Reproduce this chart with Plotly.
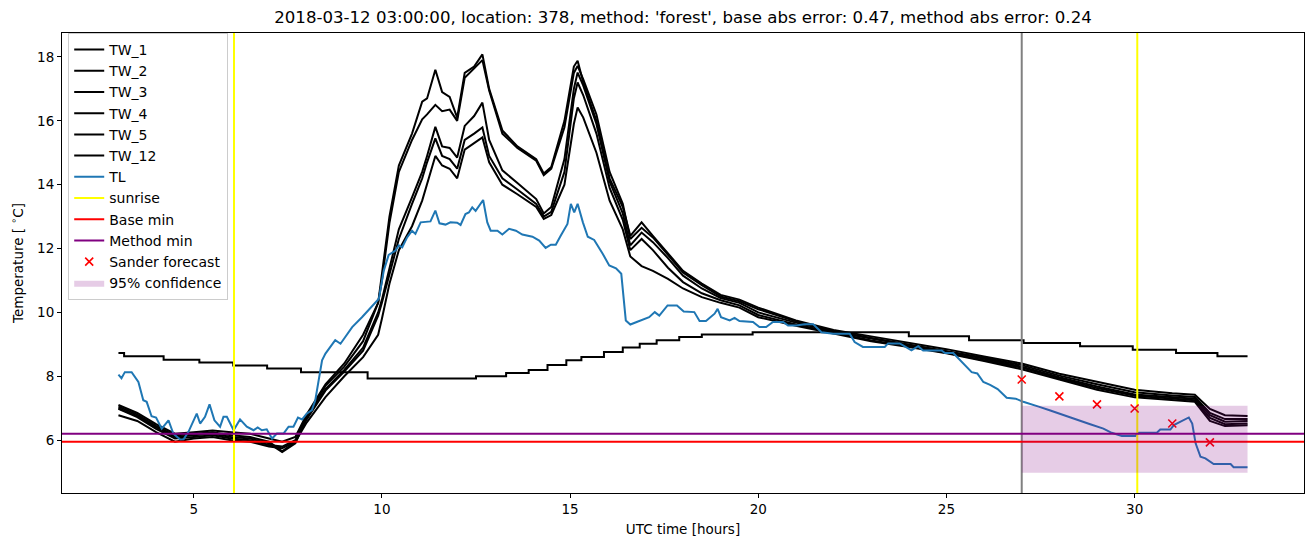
import plotly.graph_objects as go

# ---------------- data ----------------
TW_TIME = [3.0, 3.5, 4.0, 4.5, 5.0, 5.5, 6.0, 6.5, 7.0, 7.35, 7.7, 8.0, 8.5, 9.0, 9.5, 9.9,
           10.0, 10.2, 10.45, 10.8, 11.07, 11.2, 11.42, 11.6, 11.8, 12.0, 12.2, 12.45, 12.67,
           12.85, 13.2, 13.6, 14.1, 14.3, 14.5, 14.85, 15.1, 15.2, 15.35, 15.7, 16.05, 16.4,
           16.6, 16.9, 17.2, 17.6, 18.0, 18.5, 19.0, 19.5, 20.0, 21.0, 22.0, 23.0, 24.0, 25.0,
           26.0, 27.0, 28.0, 29.0, 30.0, 31.0, 31.6, 32.0, 32.4, 33.0]

TW_1 = [7.10, 6.85, 6.50, 6.20, 6.25, 6.30, 6.25, 6.20, 6.05, 5.95, 6.10, 6.80, 7.75, 8.40, 9.30, 10.30,
        11.20, 13.00, 14.60, 15.60, 16.60, 16.70, 17.60, 16.90, 16.75, 16.10, 17.50, 17.70, 18.08,
        17.00, 15.70, 15.20, 14.80, 14.35, 14.55, 16.00, 17.70, 17.88, 17.20, 16.00, 14.20, 13.30,
        12.40, 12.82, 12.40, 11.85, 11.30, 10.90, 10.55, 10.40, 10.15, 9.75, 9.45, 9.25, 9.05, 8.85,
        8.62, 8.40, 8.08, 7.82, 7.58, 7.47, 7.42, 6.98, 6.78, 6.76]
TW_2 = [7.05, 6.80, 6.45, 6.15, 6.20, 6.25, 6.15, 6.10, 5.95, 5.65, 5.95, 6.75, 7.70, 8.30, 9.10, 10.30,
        11.00, 12.80, 14.40, 15.40, 16.05, 16.20, 16.50, 16.30, 16.35, 16.00, 17.35, 17.65, 17.90,
        16.95, 15.60, 15.15, 14.75, 14.30, 14.50, 15.80, 17.50, 17.72, 17.30, 16.20, 14.40, 13.40,
        12.30, 12.65, 12.35, 11.80, 11.25, 10.85, 10.50, 10.35, 10.10, 9.72, 9.42, 9.20, 9.00, 8.80,
        8.58, 8.35, 8.02, 7.75, 7.50, 7.40, 7.35, 6.85, 6.66, 6.66]
TW_3 = [7.00, 6.75, 6.40, 6.10, 6.15, 6.20, 6.10, 6.05, 5.90, 5.63, 5.90, 6.70, 7.60, 8.20, 8.90, 10.00,
        10.40, 11.40, 12.60, 13.60, 14.40, 14.90, 15.81, 15.20, 15.15, 14.85, 15.84, 16.15, 16.57,
        15.40, 14.45, 14.05, 13.55, 13.10, 13.30, 14.80, 17.00, 17.51, 17.10, 15.90, 14.10, 13.10,
        12.10, 12.50, 12.20, 11.70, 11.15, 10.75, 10.45, 10.30, 10.00, 9.68, 9.40, 9.18, 8.98, 8.78,
        8.55, 8.30, 7.97, 7.68, 7.43, 7.36, 7.30, 6.78, 6.58, 6.60]
TW_4 = [6.98, 6.72, 6.35, 6.05, 6.10, 6.15, 6.05, 6.00, 5.85, 5.80, 6.00, 6.65, 7.55, 8.15, 8.80, 9.90,
        10.30, 11.20, 12.30, 13.40, 14.20, 14.70, 15.45, 14.90, 14.80, 14.50, 15.40, 15.60, 15.79,
        14.90, 14.20, 13.85, 13.40, 13.00, 13.15, 14.40, 16.70, 17.20, 16.80, 15.60, 13.90, 12.90,
        11.95, 12.30, 11.95, 11.40, 10.95, 10.60, 10.38, 10.22, 9.92, 9.62, 9.38, 9.12, 8.94, 8.74,
        8.50, 8.27, 7.94, 7.63, 7.39, 7.31, 7.25, 6.70, 6.50, 6.52]
TW_5 = [6.78, 6.60, 6.25, 5.95, 6.05, 6.10, 6.00, 5.95, 5.80, 5.75, 5.95, 6.55, 7.35, 8.00, 8.60, 9.30,
        9.80, 10.90, 11.95, 12.70, 13.50, 14.00, 14.90, 14.60, 14.50, 14.20, 15.10, 15.30, 15.48,
        14.70, 14.00, 13.70, 13.30, 12.93, 13.05, 14.00, 15.90, 16.42, 16.10, 15.00, 13.50, 12.60,
        11.75, 11.45, 11.30, 11.05, 10.75, 10.48, 10.30, 10.15, 9.85, 9.58, 9.35, 9.10, 8.92, 8.72,
        8.48, 8.22, 7.90, 7.58, 7.34, 7.26, 7.20, 6.60, 6.44, 6.47]

TW12_TIME = [3.0, 3.15, 4.2, 5.15, 6.05, 6.95, 7.85, 9.62, 12.5, 13.3, 13.9, 14.4, 14.9, 15.3, 15.9,
             16.4, 16.85, 17.3, 17.9, 18.5, 19.85, 24.0, 25.6, 27.05, 28.55, 29.95, 31.1, 32.2, 33.0]
TW_12 = [8.73, 8.63, 8.52, 8.43, 8.34, 8.24, 8.13, 7.93, 8.00, 8.10, 8.20, 8.35, 8.50, 8.60, 8.76,
         8.90, 9.02, 9.13, 9.23, 9.31, 9.38, 9.25, 9.13, 9.04, 8.94, 8.83, 8.73, 8.63, 8.63]

TL_TIME = [3.00, 3.08, 3.17, 3.35, 3.53, 3.66, 3.75, 3.88, 4.00, 4.15, 4.33, 4.46, 4.64, 4.73, 4.86,
           5.08, 5.17, 5.30, 5.42, 5.55, 5.70, 5.79, 5.88, 6.06, 6.23, 6.41, 6.59, 6.70, 6.81, 6.94,
           7.08, 7.21, 7.39, 7.52, 7.65, 7.77, 7.88, 8.00, 8.14, 8.23, 8.41, 8.50, 8.76, 8.90, 9.21,
           9.47, 9.92, 10.05, 10.18, 10.36, 10.45, 10.54, 10.67, 10.80, 10.89, 11.03, 11.29, 11.42,
           11.53, 11.69, 11.82, 12.00, 12.09, 12.22, 12.31, 12.40, 12.49, 12.58, 12.69, 12.80, 12.89,
           13.07, 13.20, 13.38, 13.56, 13.73, 14.00, 14.18, 14.35, 14.49, 14.62, 14.75, 14.93, 15.02,
           15.11, 15.20, 15.34, 15.47, 15.64, 15.87, 16.04, 16.22, 16.36, 16.48, 16.60, 16.77, 16.95,
           17.10, 17.25, 17.37, 17.59, 17.84, 18.02, 18.30, 18.44, 18.61, 18.84, 18.92, 19.01, 19.24,
           19.37, 19.50, 19.86, 20.03, 20.21, 20.39, 20.66, 20.79, 21.01, 21.23, 21.46, 21.68, 21.99,
           22.43, 22.56, 22.78, 23.36, 23.45, 23.76, 23.90, 24.07, 24.25, 24.38, 24.87, 24.96, 25.18,
           25.67, 25.82, 25.98, 26.16, 26.36, 26.60, 26.84, 27.04, 27.22, 27.45, 27.76, 28.02, 28.29,
           28.55, 28.82, 29.17, 29.39, 29.66, 30.02, 30.11, 30.59, 30.68, 30.95, 31.04, 31.26, 31.44,
           31.53, 31.62, 31.75, 31.88, 32.10, 32.55, 32.63, 33.00]
TL = [8.05, 7.94, 8.13, 8.13, 7.82, 7.25, 7.20, 6.75, 6.71, 6.36, 6.62, 6.20, 6.02, 6.03, 6.26,
      6.83, 6.52, 6.73, 7.12, 6.62, 6.42, 6.73, 6.73, 6.31, 6.65, 6.42, 6.31, 6.40, 6.31, 6.34,
      6.05, 6.21, 6.21, 6.42, 6.42, 6.71, 6.65, 6.83, 6.94, 7.25, 8.50, 8.71, 9.13, 9.02, 9.54,
      9.85, 10.43, 11.31, 11.80, 11.94, 12.10, 12.04, 12.35, 12.56, 12.46, 12.82, 12.85, 13.19,
      12.79, 12.75, 12.82, 12.81, 12.74, 13.08, 13.13, 13.29, 13.18, 13.34, 13.52, 12.82, 12.56,
      12.56, 12.44, 12.62, 12.56, 12.44, 12.37, 12.25, 12.02, 12.12, 12.12, 12.40, 12.77, 13.40,
      13.13, 13.40, 12.82, 12.37, 12.27, 11.83, 11.47, 11.38, 11.21, 9.75, 9.62, 9.70, 9.78,
      9.85, 10.01, 9.90, 10.22, 10.22, 10.03, 10.01, 9.73, 9.73, 9.96, 10.11, 9.85, 9.75,
      9.83, 9.73, 9.70, 9.54, 9.54, 9.70, 9.70, 9.59, 9.59, 9.63, 9.63, 9.38, 9.33,
      9.33, 9.07, 8.92, 8.92, 9.03, 9.03, 8.94, 8.81, 8.94, 8.81, 8.81, 8.73, 8.73,
      8.13, 8.09, 7.82, 7.73, 7.60, 7.33, 7.30, 7.20, 7.14, 7.05, 6.93, 6.83, 6.71,
      6.62, 6.50, 6.36, 6.23, 6.13, 6.13, 6.23, 6.23, 6.33, 6.33, 6.47, 6.60, 6.71,
      6.52, 5.90, 5.48, 5.43, 5.25, 5.25, 5.15, 5.15]

SUNRISE = [6.07, 30.07]
FORECAST_START = 27.0
BASE_MIN = 5.95
METHOD_MIN = 6.20
SANDER_TIME = [27, 28, 29, 30, 31, 32]
SANDER = [7.90, 7.37, 7.12, 6.99, 6.52, 5.93]
CONF_TIME = [27.0, 33.0]
CONF_LOW = 4.98
CONF_HIGH = 7.08

X_RANGE = [1.5, 34.5]
Y_RANGE = [4.345, 18.75]
X_TICKS = [5, 10, 15, 20, 25, 30]
Y_TICKS = [6, 8, 10, 12, 14, 16, 18]

TITLE = ("2018-03-12 03:00:00, location: 378, method: 'forest', "
         "base abs error: 0.47, method abs error: 0.24")

# ---------------- figure ----------------
fig = go.Figure()
LW = 2

for name, vals in [("TW_1", TW_1), ("TW_2", TW_2), ("TW_3", TW_3), ("TW_4", TW_4), ("TW_5", TW_5)]:
    fig.add_trace(go.Scatter(x=TW_TIME, y=vals, mode="lines", name=name,
                             line=dict(color="black", width=LW)))
fig.add_trace(go.Scatter(x=TW12_TIME, y=TW_12, mode="lines", name="TW_12",
                         line=dict(color="black", width=LW, shape="hv")))
fig.add_trace(go.Scatter(x=TL_TIME, y=TL, mode="lines", name="TL",
                         line=dict(color="#1f77b4", width=LW)))

# gray forecast-start line (no legend)
fig.add_trace(go.Scatter(x=[FORECAST_START, FORECAST_START], y=Y_RANGE, mode="lines",
                         line=dict(color="gray", width=LW), showlegend=False, hoverinfo="skip"))

sx, sy = [], []
for s in SUNRISE:
    sx += [s, s, None]
    sy += [Y_RANGE[0], Y_RANGE[1], None]
fig.add_trace(go.Scatter(x=sx, y=sy, mode="lines", name="sunrise",
                         line=dict(color="yellow", width=LW)))
fig.add_trace(go.Scatter(x=X_RANGE, y=[BASE_MIN, BASE_MIN], mode="lines", name="Base min",
                         line=dict(color="red", width=LW)))
fig.add_trace(go.Scatter(x=X_RANGE, y=[METHOD_MIN, METHOD_MIN], mode="lines", name="Method min",
                         line=dict(color="purple", width=LW)))
fig.add_trace(go.Scatter(x=SANDER_TIME, y=SANDER, mode="markers", name="Sander forecast",
                         marker=dict(symbol="x-thin", size=8, color="red",
                                     line=dict(color="red", width=1.6))))
fig.add_trace(go.Scatter(x=[CONF_TIME[0], CONF_TIME[1], CONF_TIME[1], CONF_TIME[0]],
                         y=[CONF_HIGH, CONF_HIGH, CONF_LOW, CONF_LOW],
                         mode="lines", fill="toself", name="95% confidence",
                         fillcolor="rgba(128,0,128,0.2)", line=dict(width=0)))

FONT = "DejaVu Sans"
fig.update_layout(
    width=1311, height=547,
    margin=dict(l=62, r=7, t=33, b=54),
    paper_bgcolor="white", plot_bgcolor="white",
    font=dict(family=FONT, size=14, color="black"),
    title=dict(text=TITLE, x=(62 + 1304) / 2 / 1311, xanchor="center", y=1 - 17 / 547,
               yanchor="middle", font=dict(family=FONT, size=16.6, color="black")),
    showlegend=True,
    legend=dict(x=0.005, y=1.0, xanchor="left", yanchor="top",
                bgcolor="rgba(255,255,255,0.8)", bordercolor="#cccccc", borderwidth=1,
                font=dict(family=FONT, size=14, color="black"), itemwidth=30,
                tracegroupgap=0),
)
fig.update_xaxes(range=X_RANGE, tickvals=X_TICKS, showgrid=False, zeroline=False,
                 showline=True, linecolor="black", linewidth=1, mirror=True,
                 ticks="outside", ticklen=4, tickcolor="black",
                 tickfont=dict(family=FONT, size=13.5),
                 title=dict(text="UTC time [hours]", font=dict(family=FONT, size=13.5), standoff=8))
fig.update_yaxes(range=Y_RANGE, tickvals=Y_TICKS, showgrid=False, zeroline=False,
                 showline=True, linecolor="black", linewidth=1, mirror=True,
                 ticks="outside", ticklen=4, tickcolor="black",
                 tickfont=dict(family=FONT, size=13.5),
                 title=dict(text="Temperature [ <sup>∘</sup>C]", font=dict(family=FONT, size=13.5),
                            standoff=10))

fig.write_html("out.html")
